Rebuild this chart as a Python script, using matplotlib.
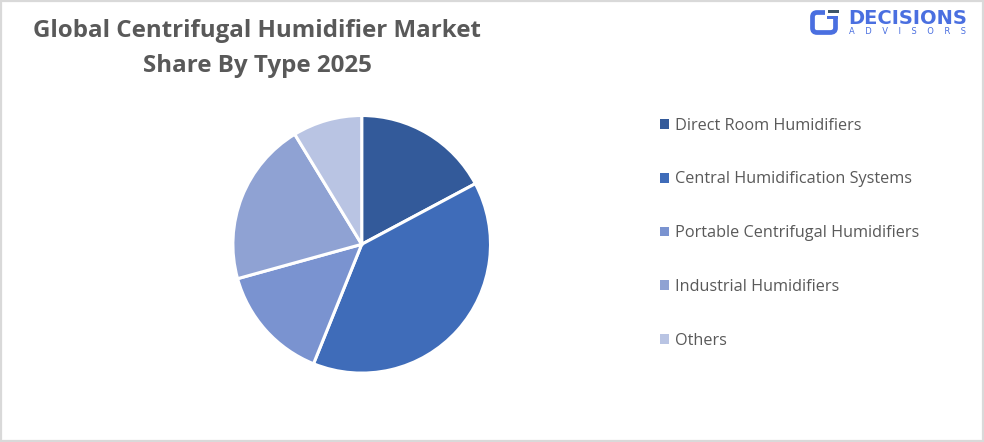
"""Global centrifugal humidifier market share by type, pie with side legend."""
import matplotlib
matplotlib.use("Agg")
import matplotlib.pyplot as plt
from matplotlib.patches import Patch, PathPatch, Rectangle
from matplotlib.path import Path

W, H = 984, 442

categories = [
    "Direct Room Humidifiers",
    "Central Humidification Systems",
    "Portable Centrifugal Humidifiers",
    "Industrial Humidifiers",
    "Others",
]
shares = [17.2, 38.9, 14.6, 20.6, 8.7]
colors = ["#335A9A", "#3F6CB9", "#7A93D0", "#8FA2D3", "#B9C4E3"]

plt.rcParams["font.family"] = ["Open Sans", "DejaVu Sans"]

fig = plt.figure(figsize=(W / 100, H / 100), dpi=100, facecolor="white")

# overlay in pixel coords for border, title, logo
bg = fig.add_axes([0, 0, 1, 1])
bg.set_xlim(0, W)
bg.set_ylim(H, 0)
bg.axis("off")
bg.add_patch(Rectangle((0.5, 1), W - 2, H - 2, fill=False, ec="#D9D9D9", lw=1.6))

bg.text(257, 31, "Global Centrifugal Humidifier Market", ha="center", va="center",
        fontsize=17.4, fontweight="bold", color="#595959")
bg.text(257, 66, "Share By Type 2025", ha="center", va="center",
        fontsize=17.4, fontweight="bold", color="#595959")

# logo
blue = "#4A6FE0"
mark = Path(
    [(825, 12.5), (817, 12.5), (812.5, 12.5), (812.5, 17), (812.5, 28), (812.5, 32.5),
     (817, 32.5), (830, 32.5), (835.5, 32.5), (835.5, 28), (835.5, 18)],
    [Path.MOVETO, Path.LINETO, Path.CURVE3, Path.CURVE3, Path.LINETO, Path.CURVE3,
     Path.CURVE3, Path.LINETO, Path.CURVE3, Path.CURVE3, Path.LINETO],
)
bg.add_patch(PathPatch(mark, fill=False, ec=blue, lw=3.4, capstyle="butt"))
bg.add_patch(Rectangle((827, 15.5), 11, 3.5, color=blue, lw=0))
bg.add_patch(Rectangle((828, 10), 11, 3, color="#3E5568", lw=0))
bg.text(848, 18, "DECISIONS", ha="left", va="center", fontsize=14,
        fontweight="bold", color=blue, family=["DejaVu Sans"])
bg.text(849, 32, "A    D    V    I    S    O    R    S", ha="left", va="center",
        fontsize=6.0, color=blue, family=["DejaVu Sans"])

# pie, axes box is the pie diameter
cx, cy, r = 361.7, 244.3, 128.8
ax = fig.add_axes([(cx - r) / W, 1 - (cy + r) / H, 2 * r / W, 2 * r / H])
ax.pie(shares, colors=colors, startangle=90, counterclock=False, radius=1,
       wedgeprops={"edgecolor": "white", "linewidth": 2.2})
ax.set_xlim(-1, 1)
ax.set_ylim(-1, 1)

handles = [Patch(facecolor=c, edgecolor="none") for c in colors]
fig.legend(handles, categories, loc="upper left", bbox_to_anchor=(645 / W, 1 - 103 / H),
           frameon=False, fontsize=11.7, labelcolor="#595959",
           handlelength=0.55, handleheight=0.55, handletextpad=0.39,
           labelspacing=2.325)

fig.savefig("out.png", dpi=100)
